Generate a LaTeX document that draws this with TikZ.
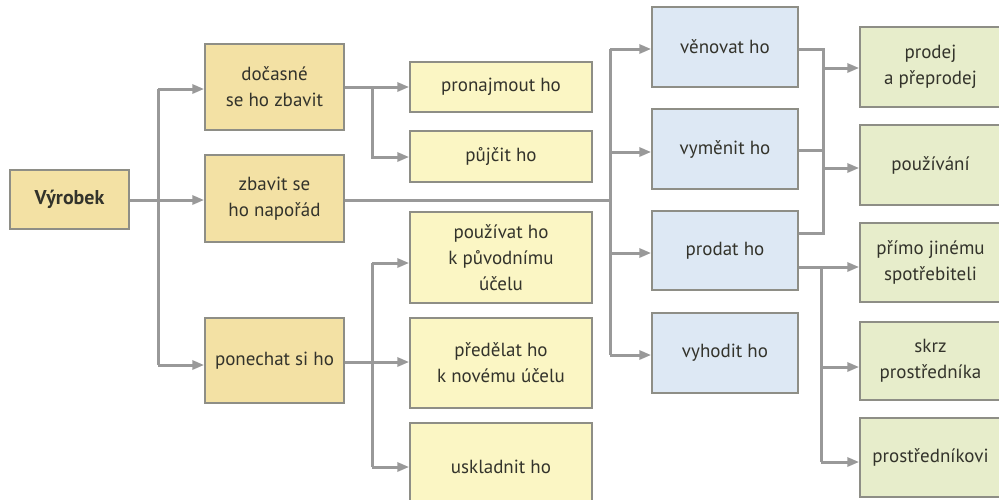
\documentclass[tikz,border=0pt]{standalone}
\usepackage{fontspec}
\setmainfont{PT Sans}
\usetikzlibrary{arrows.meta}
\definecolor{lineg}{HTML}{999999}
\definecolor{bord}{HTML}{8E8E86}
\definecolor{ctan}{HTML}{F3E1A4}
\definecolor{lyel}{HTML}{FBF6C4}
\definecolor{lblue}{HTML}{DDE8F4}
\definecolor{lgreen}{HTML}{E7EDCB}
\definecolor{txt}{HTML}{33332B}
\tikzset{
 box/.style={draw=bord, line width=1.5pt, text=txt, align=center, font=\fontsize{19}{26}\selectfont, inner sep=0pt, anchor=center},
 l1/.style={box, fill=ctan, minimum width=139pt},
 l2/.style={box, fill=lyel, minimum width=182pt},
 l3/.style={box, fill=lblue, minimum width=146pt, minimum height=80pt},
 l4/.style={box, fill=lgreen, minimum width=141pt},
 conn/.style={draw=lineg, line width=3pt},
 arr/.style={conn, -{Triangle[length=12pt,width=9pt]}}
}
\begin{document}
\begin{tikzpicture}[x=1pt,y=-1pt]
\useasboundingbox (0,0) rectangle (999,499);
% nodes
\node[box, fill=ctan, minimum width=119pt, minimum height=59pt, font=\fontsize{20}{26}\selectfont\bfseries] (vyr) at (69.5,199.5) {Výrobek};
\node[l1, minimum height=86pt] (doc) at (274.5,87) {dočasné\\se ho zbavit};
\node[l1, minimum height=87pt] (zba) at (274.5,198.5) {zbavit se\\ho napořád};
\node[l1, minimum height=85pt] (pon) at (274.5,360.5) {ponechat si ho};
\node[l2, minimum height=50pt] (pro) at (501,87) {pronajmout ho};
\node[l2, minimum height=51pt] (puj) at (501,156.5) {půjčit ho};
\node[l2, minimum height=91pt] (pou) at (501,257.5) {používat ho\\k původnímu\\účelu};
\node[l2, minimum height=90pt] (pre) at (501,363) {předělat ho\\k novému účelu};
\node[l2, minimum height=88pt] (usk) at (501,467) {uskladnit ho};
\node[l3] (ven) at (725,47) {věnovat ho};
\node[l3] (vym) at (725,149) {vyměnit ho};
\node[l3, minimum height=79pt] (prd) at (725,250.5) {prodat ho};
\node[l3] (vyh) at (725,353) {vyhodit ho};
\node[l4, minimum height=80pt] (g1) at (930.5,67) {prodej\\a přeprodej};
\node[l4, minimum height=80pt] (g2) at (930.5,165) {používání};
\node[l4, minimum height=79pt] (g3) at (930.5,262.5) {přímo jinému\\spotřebiteli};
\node[l4, minimum height=78pt] (g4) at (930.5,361) {skrz\\prostředníka};
\node[l4, minimum height=79pt] (g5) at (930.5,457.5) {prostředníkovi};
% left trunk
\coordinate (a1) at (158,89);
\coordinate (a2) at (158,200);
\coordinate (a3) at (158,365);
\draw[conn] (vyr.east |- a2) -- (a2);
\draw[conn] (a1) -- (a3);
\draw[arr] (a1) -- (a1 -| doc.west);
\draw[arr] (a2) -- (a2 -| zba.west);
\draw[arr] (a3) -- (a3 -| pon.west);
% doc branch
\coordinate (b1) at (372,87);
\coordinate (b2) at (372,157);
\draw[arr] (doc.east |- b1) -- (b1 -| pro.west);
\draw[arr] (b1) -- (b2) -- (b2 -| puj.west);
% pon branch
\coordinate (c1) at (372,263);
\coordinate (c2) at (372,362);
\coordinate (c3) at (372,467);
\draw[conn] (c1) -- (c3);
\draw[arr] (pon.east |- c2) -- (c2 -| pre.west);
\draw[arr] (c1) -- (c1 -| pou.west);
\draw[arr] (c3) -- (c3 -| usk.west);
% blue trunk
\coordinate (m0) at (610,200);
\coordinate (m1) at (610,49);
\coordinate (m2) at (610,152);
\coordinate (m3) at (610,253);
\coordinate (m4) at (610,355);
\draw[conn] (zba.east |- m0) -- (m0);
\draw[conn] (m1) -- (m4);
\draw[arr] (m1) -- (m1 -| ven.west);
\draw[arr] (m2) -- (m2 -| vym.west);
\draw[arr] (m3) -- (m3 -| prd.west);
\draw[arr] (m4) -- (m4 -| vyh.west);
% right upper trunk
\coordinate (r0) at (823,49);
\coordinate (r1) at (823,68);
\coordinate (r2) at (823,150);
\coordinate (r3) at (823,168);
\coordinate (r4) at (823,233);
\draw[conn] (ven.east |- r0) -- (r0) -- (r4) -- (r4 -| prd.east);
\draw[conn] (vym.east |- r2) -- (r2);
\draw[arr] (r1) -- (r1 -| g1.west);
\draw[arr] (r3) -- (r3 -| g2.west);
% right lower trunk
\coordinate (s1) at (821,267);
\coordinate (s2) at (821,367);
\coordinate (s3) at (821,462);
\draw[conn] (prd.east |- s1) -- (s1) -- (s3);
\draw[arr] (s1) -- (s1 -| g3.west);
\draw[arr] (s2) -- (s2 -| g4.west);
\draw[arr] (s3) -- (s3 -| g5.west);
\end{tikzpicture}
\end{document}
